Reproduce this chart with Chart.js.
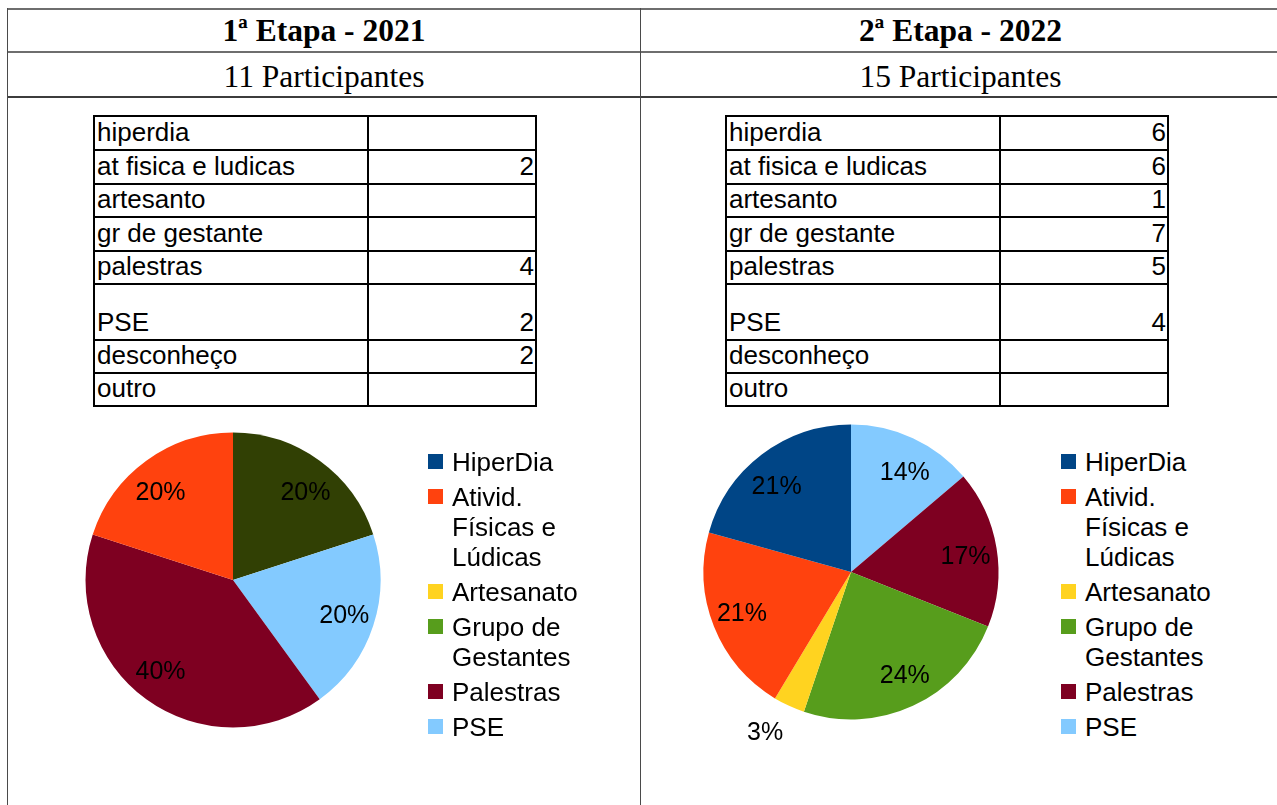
<!DOCTYPE html>
<html lang="pt">
<head>
  <meta charset="UTF-8"/>
  <title>Etapas 2021 e 2022</title>
  <script src="https://cdn.jsdelivr.net/npm/chart.js"></script>
  <style>
    body { margin: 0; width: 1277px; height: 805px; overflow: hidden; background: #fff; font-family: "Liberation Sans", Arial, sans-serif; color: #000; }
    .page { position: relative; width: 1277px; height: 805px; }
    .hline { position: absolute; left: 7px; width: 1280px; height: 2px; background: #6e6e6e; }
    .vline { position: absolute; top: 8px; width: 1px; height: 800px; background: #4a4a4a; }
    .head { position: absolute; text-align: center; font-family: "Liberation Serif", "Times New Roman", serif; font-size: 31.5px; }
    .grid { position: absolute; display: grid; grid-template-columns: 272px 166px; grid-template-rows: 32px 32px 31px 32px 31px 54px 31px 31px;
            gap: 2px; padding: 2px; background: #000; }
    .grid div { background: #fff; font-size: 26px; line-height: 30px; display: flex; align-items: flex-end; white-space: nowrap; padding-bottom: 2px; box-sizing: border-box; }
    .grid .lab { padding-left: 2px; }
    .grid .num { justify-content: flex-end; padding-right: 1px; }
    .pie { position: absolute; width: 400px; height: 400px; }
    .legend { position: absolute; top: 447px; font-size: 26px; line-height: 30px; }
    .legend .item { display: flex; margin-bottom: 5px; }
    .legend .sw { width: 15px; height: 15px; margin-top: 6.5px; margin-right: 9px; flex: none; }
    .legend .txt { max-width: 130px; }
  </style>
</head>
<body>
  <div class="page">
    <div class="hline" style="top:8px"></div>
    <div class="hline" style="top:51px"></div>
    <div class="hline" style="top:96px; background:#3c3c3c"></div>
    <div class="vline" style="left:7px"></div>
    <div class="vline" style="left:640px"></div>

    <div class="head" id="title0" style="left:8px; width:632px; top:10px; line-height:42px; font-weight:bold"></div>
    <div class="head" id="title1" style="left:641px; width:639px; top:10px; line-height:42px; font-weight:bold"></div>
    <div class="head" id="count0" style="left:8px; width:632px; top:55px; line-height:44px"></div>
    <div class="head" id="count1" style="left:641px; width:639px; top:55px; line-height:44px"></div>

    <div class="grid" id="table0" style="left:93px; top:115px"></div>
    <div class="grid" id="table1" style="left:725px; top:115px"></div>

    <div class="pie" style="left:33px; top:380px"><canvas id="pie0"></canvas></div>
    <div class="pie" style="left:651px; top:372px"><canvas id="pie1"></canvas></div>

    <div class="legend" id="legend0" style="left:428px"></div>
    <div class="legend" id="legend1" style="left:1061px"></div>
  </div>

  <script>
    const stages = ['1ª Etapa - 2021', '2ª Etapa - 2022']
    const participants = [11, 15]

    const categories = ['hiperdia', 'at fisica e ludicas', 'artesanto', 'gr de gestante', 'palestras', 'PSE', 'desconheço', 'outro']
    const values2021 = [null, 2, null, null, 4, 2, 2, null]
    const values2022 = [6, 6, 1, 7, 5, 4, null, null]

    const pieLabels = ['HiperDia', 'Ativid. Físicas e Lúdicas', 'Artesanato', 'Grupo de Gestantes', 'Palestras', 'PSE', 'Desconheço']
    const pieColors = ['#004586', '#ff420e', '#ffd320', '#579d1c', '#7e0021', '#83caff', '#314004']
    const legendShown = 6

    // percent labels inside slices, small ones go outside
    const pctLabels = {
      id: 'pctLabels',
      afterDatasetsDraw(chart) {
        const ctx = chart.ctx
        const data = chart.data.datasets[0].data
        const total = data.reduce((a, b) => a + b, 0)
        ctx.save()
        ctx.font = '25px "Liberation Sans", Arial, sans-serif'
        ctx.fillStyle = '#000'
        ctx.textAlign = 'center'
        ctx.textBaseline = 'middle'
        chart.getDatasetMeta(0).data.forEach((arc, i) => {
          if (!data[i]) return
          const pct = Math.round(data[i] / total * 100)
          const p = arc.getProps(['x', 'y', 'startAngle', 'endAngle', 'outerRadius'], true)
          const mid = (p.startAngle + p.endAngle) / 2
          const cx = Math.cos(mid), cy = Math.sin(mid)
          const text = pct + '%'
          let x, y
          if (pct < 5) {
            const r = p.outerRadius + 14
            const w = ctx.measureText(text).width
            x = p.x + cx * r + Math.sign(cx) * w / 2
            y = p.y + cy * r + Math.sign(cy) * 15
          } else {
            const r = p.outerRadius * 0.78
            // nudge sideways like the office suite does near the vertical axis
            x = p.x + cx * r + Math.sign(cx) * 6 * Math.abs(cy)
            y = p.y + cy * r - Math.sign(cy) * 8 * Math.abs(cx * cy) + 2.5
          }
          ctx.fillText(text, x, y)
        })
        ctx.restore()
      }
    }

    function buildTable(id, values) {
      const el = document.getElementById(id)
      categories.forEach((c, i) => {
        const a = document.createElement('div')
        a.className = 'lab'
        a.textContent = c
        const b = document.createElement('div')
        b.className = 'num'
        b.textContent = values[i] == null ? '' : values[i]
        el.appendChild(a)
        el.appendChild(b)
      })
    }

    function buildLegend(id) {
      const el = document.getElementById(id)
      pieLabels.slice(0, legendShown).forEach((l, i) => {
        el.innerHTML += `<div class="item"><span class="sw" style="background:${pieColors[i]}"></span><span class="txt">${l}</span></div>`
      })
    }

    // LibreOffice draws slices counter-clockwise from 12 o'clock, so feed them reversed
    function buildPie(id, values) {
      const vals = pieLabels.map((_, i) => values[i] || 0).reverse()
      new Chart(document.getElementById(id), {
        type: 'pie',
        data: {
          labels: pieLabels.slice().reverse(),
          datasets: [{ data: vals, backgroundColor: pieColors.slice().reverse(), borderWidth: 0 }]
        },
        options: {
          responsive: true,
          maintainAspectRatio: false,
          animation: false,
          layout: { padding: 52.5 },
          plugins: { legend: { display: false }, tooltip: { enabled: false } }
        },
        plugins: [pctLabels]
      })
    }

    stages.forEach((s, i) => {
      document.getElementById('title' + i).textContent = s
      document.getElementById('count' + i).textContent = participants[i] + ' Participantes'
    })
    buildTable('table0', values2021)
    buildTable('table1', values2022)
    buildLegend('legend0')
    buildLegend('legend1')
    buildPie('pie0', values2021)
    buildPie('pie1', values2022)
  </script>
</body>
</html>
